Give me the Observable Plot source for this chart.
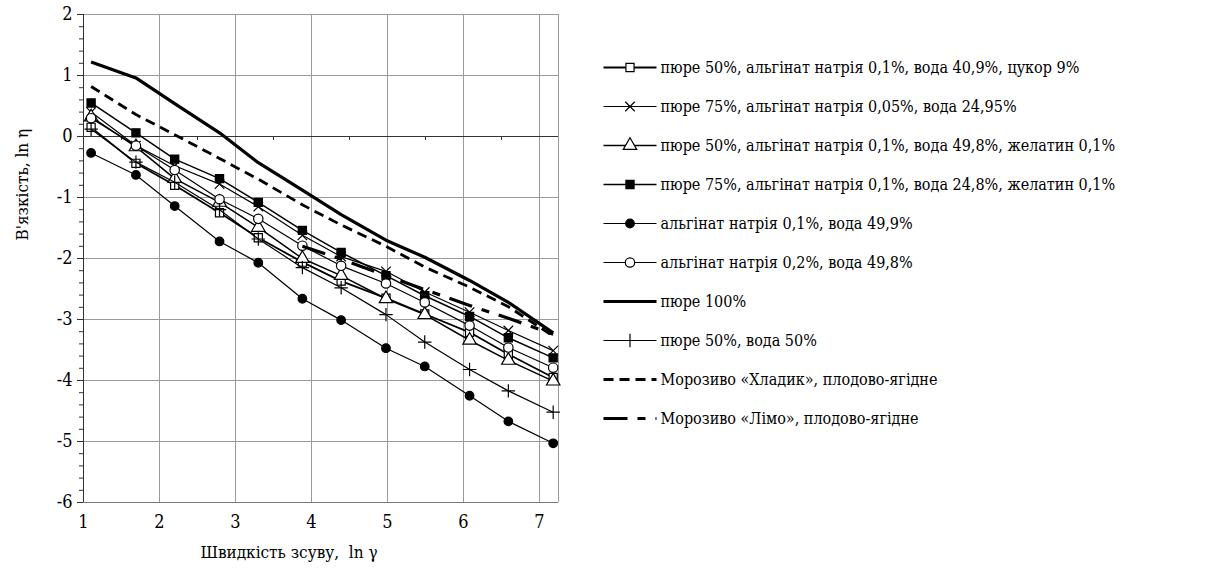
<!DOCTYPE html>
<html>
<head>
<meta charset="utf-8">
<script src="https://cdn.jsdelivr.net/npm/d3@7"></script>
<script src="https://cdn.jsdelivr.net/npm/@observablehq/plot@0.6"></script>
<style>
  html, body { margin: 0; padding: 0; background: #fff; }
  #wrap { position: relative; width: 1214px; height: 574px; overflow: hidden; background: #fff; }
  #chart { position: absolute; left: 0; top: 0; }
  #legend { position: absolute; left: 590px; top: 0; }
  #wrap text { font-stretch: condensed; }
</style>
</head>
<body>
<div id="wrap"><div id="chart"></div><div id="legend"></div></div>
<script>
// ---- data ----
const lnGamma = [1.10, 1.69, 2.20, 2.79, 3.30, 3.88, 4.39, 4.98, 5.49, 6.08, 6.59, 7.18];
const seriesNames = [
  "пюре 50%, альгінат натрія 0,1%, вода 40,9%, цукор 9%",
  "пюре 75%, альгінат натрія 0,05%, вода 24,95%",
  "пюре 50%, альгінат натрія 0,1%, вода 49,8%, желатин 0,1%",
  "пюре 75%, альгінат натрія 0,1%, вода 24,8%, желатин 0,1%",
  "альгінат натрія 0,1%, вода 49,9%",
  "альгінат натрія 0,2%, вода 49,8%",
  "пюре 100%",
  "пюре 50%, вода 50%",
  "Морозиво «Хладик», плодово-ягідне",
  "Морозиво «Лімо», плодово-ягідне"
];
const s1 = [0.15, -0.44, -0.80, -1.25, -1.66, -2.06, -2.37, -2.65, -2.91, -3.21, -3.57, -3.95];
const s2 = [0.40, -0.15, -0.48, -0.78, -1.15, -1.62, -1.97, -2.21, -2.55, -2.88, -3.18, -3.51];
const s3 = [0.32, -0.17, -0.69, -1.08, -1.49, -2.00, -2.28, -2.66, -2.92, -3.34, -3.67, -4.01];
const s4 = [0.55, 0.06, -0.37, -0.69, -1.08, -1.54, -1.90, -2.28, -2.61, -2.95, -3.30, -3.63];
const s5 = [-0.27, -0.63, -1.14, -1.72, -2.07, -2.66, -3.01, -3.47, -3.77, -4.25, -4.67, -5.03];
const s6 = [0.30, -0.15, -0.55, -1.03, -1.35, -1.79, -2.12, -2.41, -2.72, -3.10, -3.46, -3.79];
const s7 = [1.22, 0.96, 0.54, 0.06, -0.43, -0.88, -1.28, -1.70, -1.98, -2.36, -2.72, -3.22];
const s8 = [0.12, -0.42, -0.75, -1.20, -1.68, -2.15, -2.48, -2.92, -3.37, -3.82, -4.17, -4.52];
const s9 = [0.82, 0.36, 0.03, -0.36, -0.70, -1.12, -1.45, -1.80, -2.14, -2.47, -2.79, -3.27];
const s10 = [-1.80, -2.01, -2.28, -2.51, -2.77, -2.98, -3.24]; // from ln γ = 3.88
const s10Start = 5;
const seriesValues = [s1, s2, s3, s4, s5, s6, s7, s8, s9, s10];
const seriesStart = [0, 0, 0, 0, 0, 0, 0, 0, 0, s10Start];
const xTicks = [1, 2, 3, 4, 5, 6, 7];
const yTicks = [-6, -5, -4, -3, -2, -1, 0, 1, 2];
const xTitle = "Швидкість зсуву,  ln γ";
const yTitle = "В'язкість, ln η";

// ---- styles ----
const FONT = "'DejaVu Serif Condensed', 'DejaVu Serif', serif";
const styles = [
  {symbol: "square",   fill: "white", sw: 1.8, r: 4.6},
  {symbol: "times",    fill: "none",  sw: 1.2, r: 4.4},
  {symbol: "triangle", fill: "white", sw: 1.5, r: 5},
  {symbol: "square",   fill: "black", sw: 1.5, r: 4.6},
  {symbol: "circle",   fill: "black", sw: 1.2, r: 4.3},
  {symbol: "circle",   fill: "white", sw: 1.2, r: 4.7},
  {symbol: null, sw: 3.2},
  {symbol: "plus",     fill: "none",  sw: 1.2, r: 4.4},
  {symbol: null, sw: 2.8, dash: "10,6"},
  {symbol: null, sw: 3.2, dash: "24,10,8,10"}
];

const rows = seriesValues.map((vals, i) =>
  vals.map((v, j) => ({series: seriesNames[i], x: lnGamma[seriesStart[i] + j], y: v})));

const minorY = d3.range(-6, 2.001, 0.2).map(v => +v.toFixed(1)).filter(v => !Number.isInteger(v));
const minorX = [1.5, 2.5, 3.5, 4.5, 5.5, 6.5];

const fmt = d => String(d);
const marks = [
  Plot.gridY(yTicks, {stroke: "#9a9a9a", strokeOpacity: 1}),
  Plot.gridX(xTicks.slice(1), {stroke: "#9a9a9a", strokeOpacity: 1}),
  Plot.ruleX([7.25], {stroke: "#9a9a9a"}),
  Plot.ruleY([-6], {stroke: "#7a7a7a"}),
  Plot.ruleY([0], {stroke: "#333"}),
  Plot.ruleX(minorX, {y1: 0, y2: 0, insetBottom: -4, stroke: "#333"}),
  Plot.ruleX([1], {stroke: "#333"}),
  Plot.axisY(yTicks, {tickSize: 6, tickPadding: 5, tickFormat: fmt, fontSize: 18, fontFamily: FONT, label: null, stroke: "#333"}),
  Plot.axisY(minorY, {tickSize: 4, tickFormat: () => "", label: null, stroke: "#333"}),
  Plot.axisX(xTicks, {tickSize: 0, tickPadding: 13, tickFormat: fmt, fontSize: 18, fontFamily: FONT, label: null}),
  Plot.text([xTitle], {frameAnchor: "bottom", dy: 55, dx: -32, fontSize: 17, fontFamily: FONT, text: d => d}),
  Plot.text([yTitle], {frameAnchor: "left", dx: -61, dy: -18, rotate: -90, fontSize: 17, fontFamily: FONT, text: d => d})
];
rows.forEach((data, i) => {
  const st = styles[i];
  marks.push(Plot.line(data, {x: "x", y: "y", stroke: "black", strokeWidth: st.sw,
    strokeDasharray: st.dash, strokeLinejoin: "round", strokeLinecap: "butt"}));
  if (st.symbol) {
    marks.push(Plot.dot(data, {x: "x", y: "y", symbol: st.symbol, r: st.r,
      fill: st.fill, stroke: "black", strokeWidth: 1.2}));
  }
});

const chart = Plot.plot({
  width: 600, height: 574,
  marginLeft: 83, marginRight: 42, marginTop: 14, marginBottom: 72,
  x: {domain: [1, 7.25]},
  y: {domain: [-6, 2]},
  style: {background: "white", color: "black"},
  marks
});
document.getElementById("chart").appendChild(chart);

// ---- legend ----
const legMarks = [];
seriesNames.forEach((name, i) => {
  const st = styles[i];
  const d = [{name}];
  legMarks.push(Plot.link(d, {x1: () => 0, x2: () => 1, y1: "name", y2: "name",
    stroke: "black", strokeWidth: st.sw, strokeDasharray: st.dash}));
  if (st.symbol) legMarks.push(Plot.dot(d, {x: () => 0.5, y: "name", symbol: st.symbol, r: st.r,
    fill: st.fill, stroke: "black", strokeWidth: 1.2}));
  legMarks.push(Plot.text(d, {x: () => 1, y: "name", text: "name", textAnchor: "start", dx: 4,
    fontSize: 16, fontFamily: FONT}));
});
const legend = Plot.plot({
  width: 624, height: 574, margin: 0,
  x: {domain: [0, 1], range: [13, 66], axis: null},
  y: {type: "point", domain: seriesNames, range: [44, 441], axis: null},
  style: {background: "transparent", color: "black"},
  marks: legMarks
});
document.getElementById("legend").appendChild(legend);
</script>
</body>
</html>
